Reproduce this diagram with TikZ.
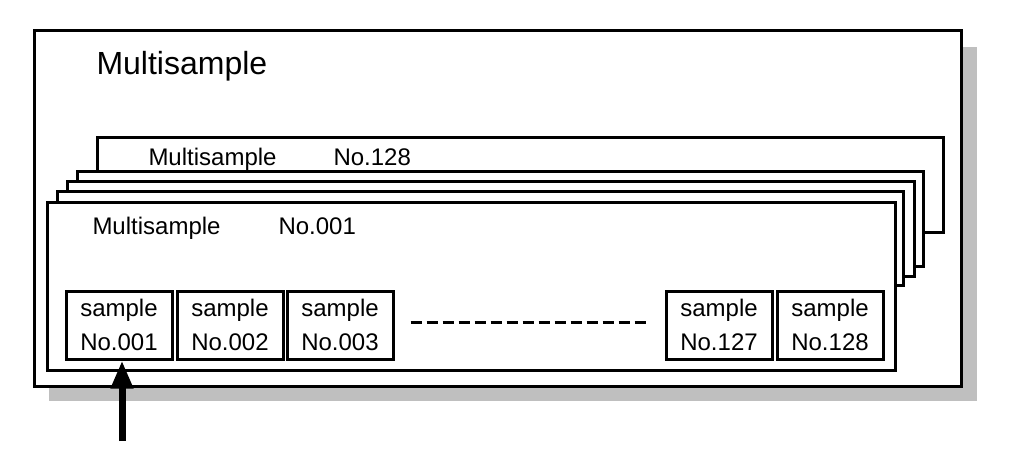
\documentclass[tikz,border=0pt]{standalone}
\usepackage{fontspec}
\setmainfont{Liberation Sans}
\usetikzlibrary{arrows.meta,positioning}

\begin{document}
\begin{tikzpicture}[x=1pt,y=-1pt,line width=3pt,
	card/.style={draw,fill=white},
	samplebox/.style={draw,minimum width=106pt,minimum height=68pt,inner sep=0pt,align=center,font=\fontsize{24}{34}\selectfont},
	cardtext/.style={anchor=base west,inner sep=0pt,font=\fontsize{24}{28}\selectfont}]
\useasboundingbox (0,0) rectangle (1024,470);
\fill [black!25] (49,47) rectangle (977,401);
\draw [card] (34,31) rectangle (961,386);
\node [anchor=base west,inner sep=0pt,font=\fontsize{32}{36}\selectfont] (title) at (95,75) {Multisample};

\foreach \xa/\ya/\xb/\yb in {97/138/943/233,77/172/923/266,67/182/914/276,57/192/903/285,47/203/895/370}
	\draw [card] (\xa,\ya) rectangle (\xb,\yb);

\node [cardtext] (m128) at (147,166) {Multisample};
\node [cardtext] (n128) at (332,166) {No.128};
\node [cardtext] (m001) at (91,235) {Multisample};
\node [cardtext] (n001) at (277,235) {No.001};

\foreach \x/\n in {119/001,230/002,340/003,719/127,830/128}
	\node [samplebox] (s\n) at (\x,325) {sample\\No.\n};
\draw [dash pattern=on 11pt off 5pt,shorten <=16pt,shorten >=18pt] ([yshift=3pt]s003.east) -- ([yshift=3pt]s127.west);

\coordinate (feed) at (122,441);
\draw [line width=7pt,-{Triangle[width=21pt,length=28pt]}] (feed) -- (feed |- s001.south);
\end{tikzpicture}
\end{document}
